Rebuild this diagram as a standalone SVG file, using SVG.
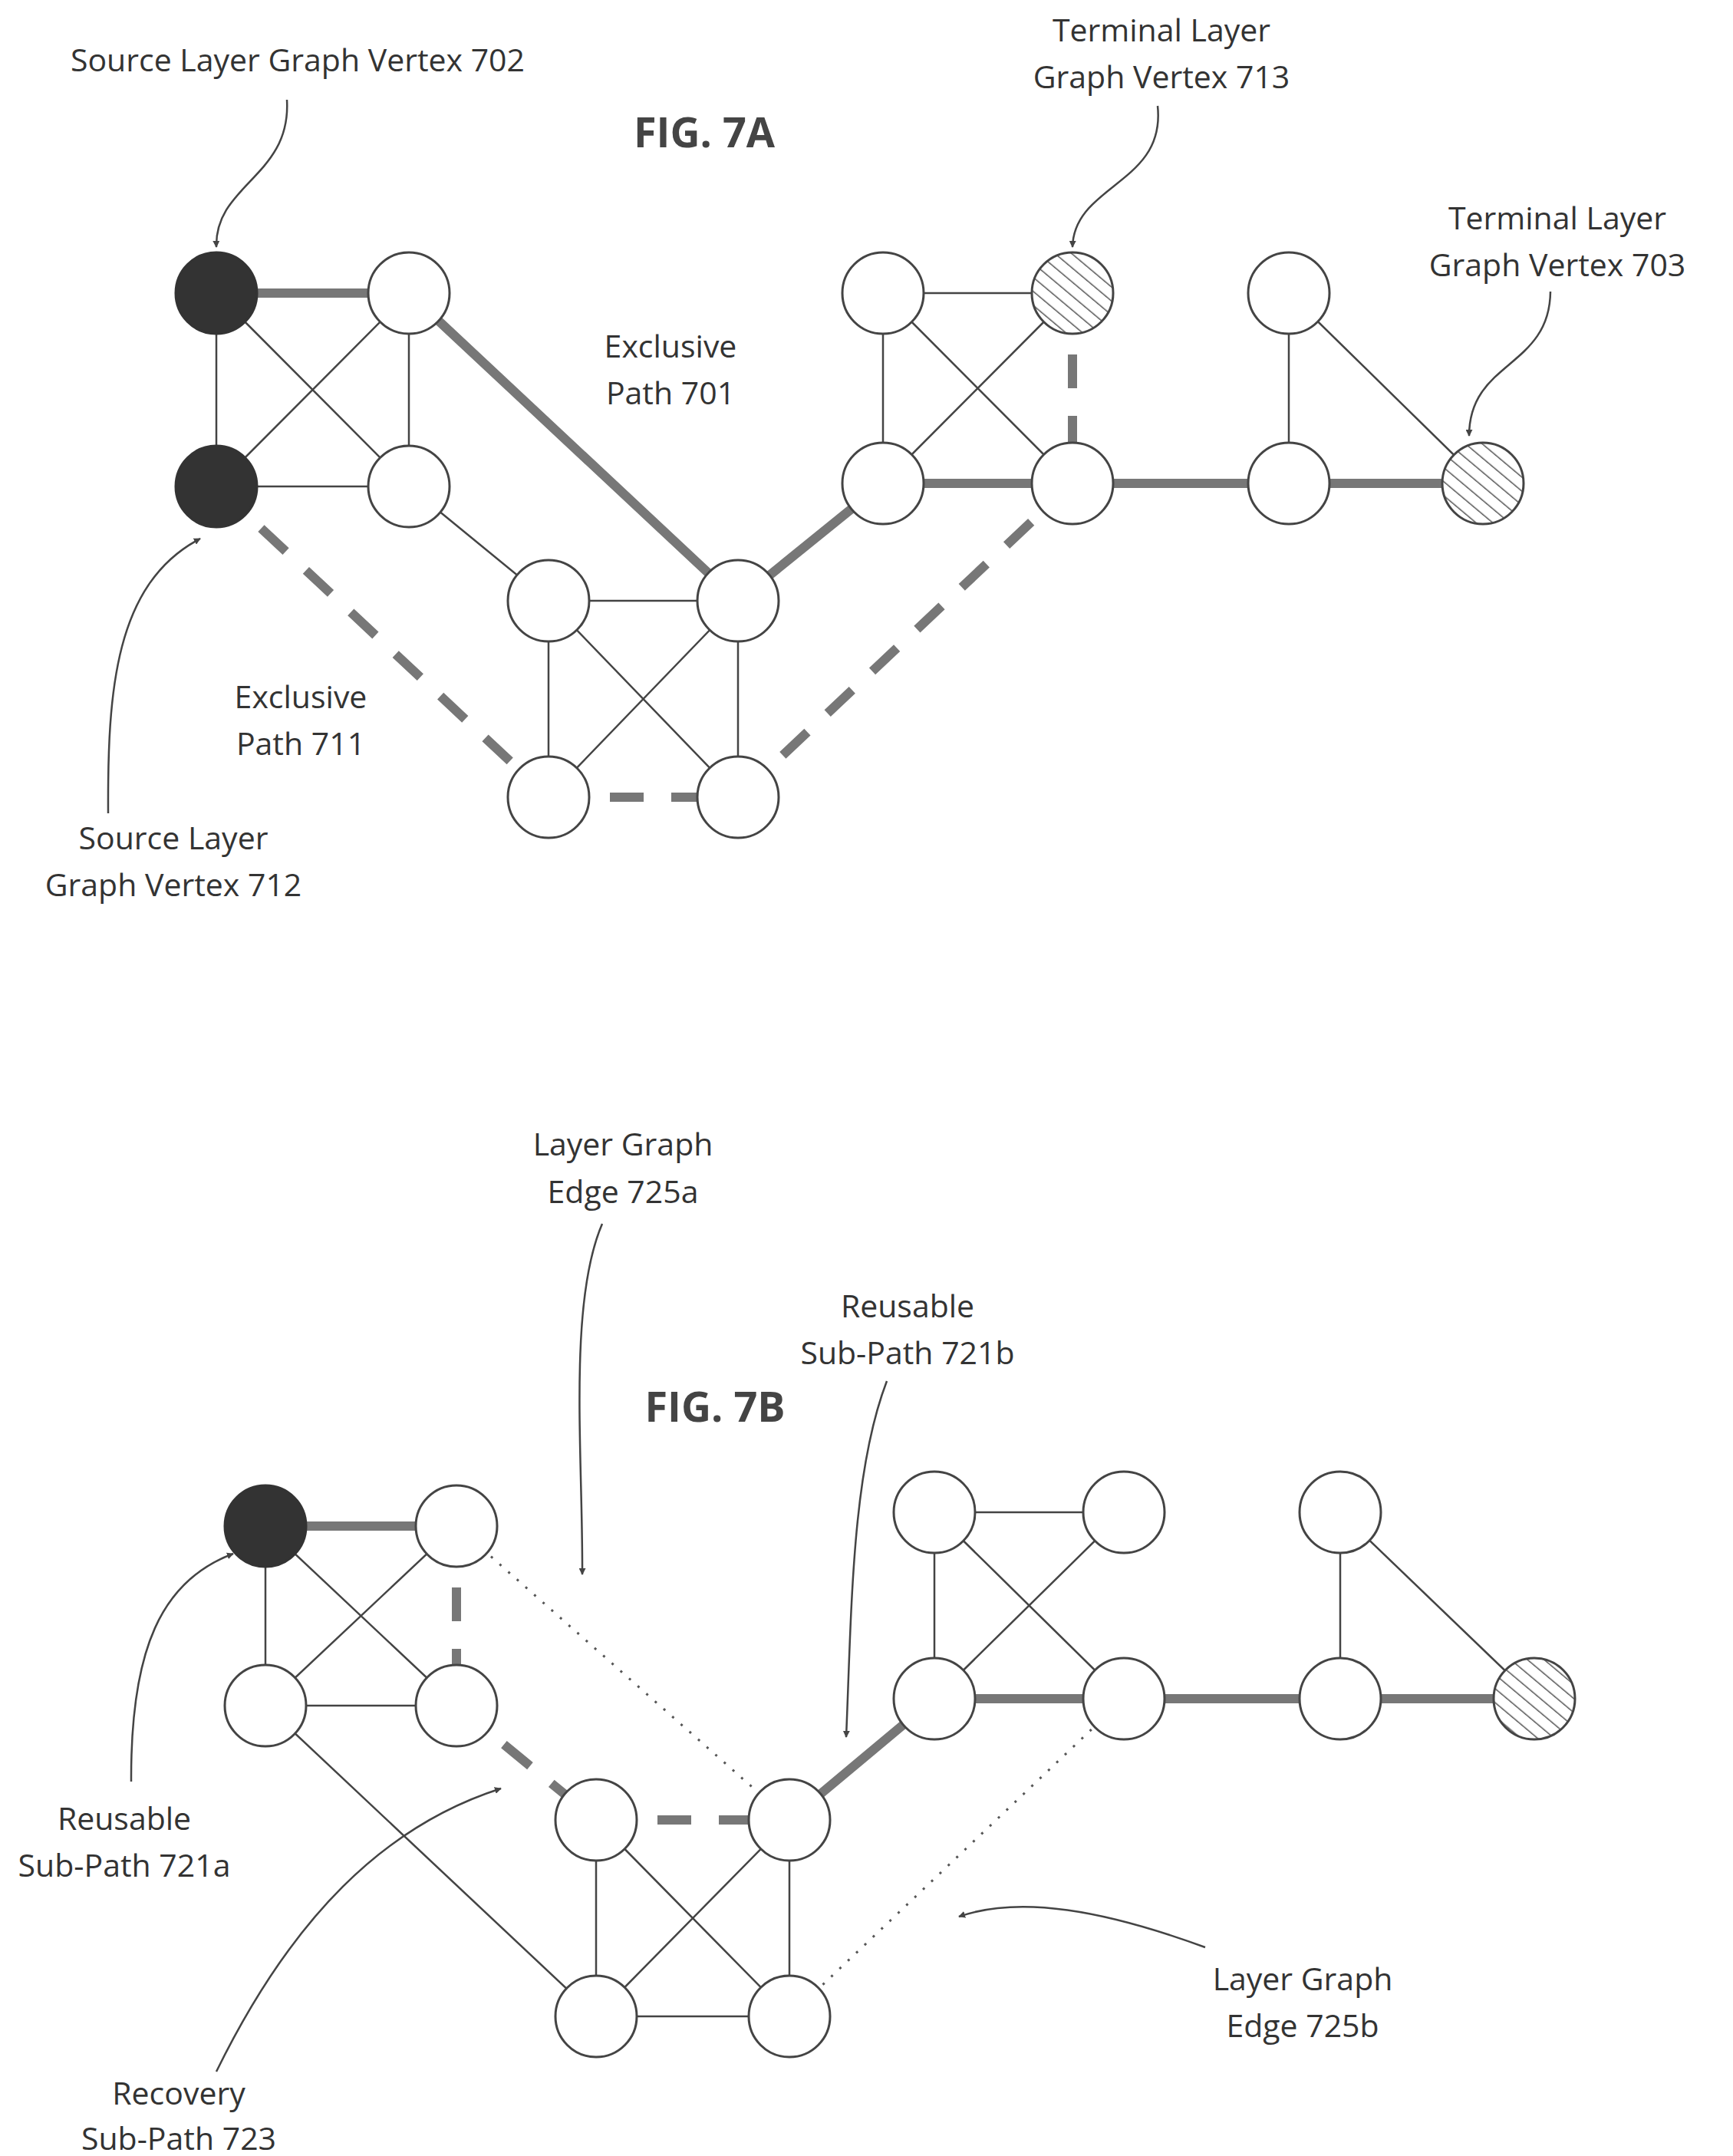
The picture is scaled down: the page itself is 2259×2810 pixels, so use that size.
<svg xmlns="http://www.w3.org/2000/svg" width="2259" height="2810" viewBox="0 0 2259 2810">
<style>
text{font-family:"Open Sans","Liberation Sans",sans-serif;font-size:41px;fill:#333;text-anchor:middle;dominant-baseline:central}
.fig{font-weight:bold;font-size:54px;fill:#444}
.n{fill:#fff;stroke:#444;stroke-width:3}
.blk{fill:#333;stroke:#333;stroke-width:3}
.hat{fill:url(#hatch);stroke:#444;stroke-width:3}
.t{stroke:#444;stroke-width:2.5;fill:none}
.k{stroke:#777;stroke-width:12;fill:none}
.d{stroke:#777;stroke-width:12;fill:none;stroke-dasharray:44 36}
.o{stroke:#555;stroke-width:3;fill:none;stroke-dasharray:3 12}
.a{stroke:#444;stroke-width:2.5;fill:none;marker-end:url(#ah)}
</style>
<defs>
<pattern id="hatch" width="14" height="14" patternUnits="userSpaceOnUse" patternTransform="rotate(-50)"><rect width="14" height="14" fill="#fff"/><line x1="0" y1="0" x2="0" y2="14" stroke="#555" stroke-width="3"/></pattern>
<marker id="ah" viewBox="0 0 10 10" refX="9" refY="5" markerWidth="9" markerHeight="9" orient="auto" markerUnits="userSpaceOnUse"><path d="M0,0L10,5L0,10z" fill="#444"/></marker>
</defs>
<rect width="2259" height="2810" fill="#fff"/>
<g id="connectors">
<path class="t" d="M282,382L282,634M533,382L533,634M282,382L533,634M533,382L282,634M282,634L533,634M533,634L715,783M715,783L962,783M715,783L715,1039M962,783L962,1039M715,783L962,1039M962,783L715,1039M1151,382L1398,382M1151,382L1151,630M1151,382L1398,630M1398,382L1151,630M1680,382L1680,630M1680,382L1933,630"/>
<path class="k" d="M282,382L533,382M533,382L962,783M962,783L1151,630M1151,630L1398,630M1398,630L1680,630M1680,630L1933,630"/>
<path class="d" d="M282,634L715,1039"/><path class="d" d="M715,1039L962,1039"/><path class="d" d="M962,1039L1398,630"/><path class="d" d="M1398,382L1398,630"/>
<path class="t" d="M346,1989L346,2223M346,1989L595,2223M595,1989L346,2223M346,2223L595,2223M346,2223L777,2628M777,2372L777,2628M777,2372L1029,2628M1029,2372L777,2628M1029,2372L1029,2628M777,2628L1029,2628M1218,1971L1465,1971M1218,1971L1218,2214M1218,1971L1465,2214M1465,1971L1218,2214M1747,1971L1747,2214M1747,1971L2000,2214"/>
<path class="k" d="M346,1989L595,1989M1029,2372L1218,2214M1218,2214L1465,2214M1465,2214L1747,2214M1747,2214L2000,2214"/>
<path class="d" d="M595,1989L595,2223"/><path class="d" d="M595,2223L777,2372"/><path class="d" d="M777,2372L1029,2372"/>
<path class="o" d="M595,1989L1029,2372M1029,2628L1465,2214"/>
<path class="a" d="M374,130C380,230 280,240 282,322"/>
<path class="a" d="M1509,138C1520,240 1400,240 1398,322"/>
<path class="a" d="M2021,380C2020,480 1915,470 1915,568"/>
<path class="a" d="M141,1060C140,900 150,760 261,702"/>
<path class="a" d="M785,1595C740,1700 760,1900 759,2052"/>
<path class="a" d="M1156,1800C1110,1920 1110,2100 1103,2264"/>
<path class="a" d="M171,2322C170,2150 210,2060 304,2025"/>
<path class="a" d="M282,2700C380,2500 500,2380 653,2331"/>
<path class="a" d="M1571,2538C1440,2490 1330,2470 1250,2498"/>
</g>
<g id="A1"><circle class="blk" cx="282" cy="382" r="53"/></g>
<g id="A2"><circle class="n" cx="533" cy="382" r="53"/></g>
<g id="A3"><circle class="blk" cx="282" cy="634" r="53"/></g>
<g id="A4"><circle class="n" cx="533" cy="634" r="53"/></g>
<g id="A5"><circle class="n" cx="715" cy="783" r="53"/></g>
<g id="A6"><circle class="n" cx="962" cy="783" r="53"/></g>
<g id="A7"><circle class="n" cx="715" cy="1039" r="53"/></g>
<g id="A8"><circle class="n" cx="962" cy="1039" r="53"/></g>
<g id="A9"><circle class="n" cx="1151" cy="382" r="53"/></g>
<g id="A10"><circle class="hat" cx="1398" cy="382" r="53"/></g>
<g id="A11"><circle class="n" cx="1151" cy="630" r="53"/></g>
<g id="A12"><circle class="n" cx="1398" cy="630" r="53"/></g>
<g id="A13"><circle class="n" cx="1680" cy="382" r="53"/></g>
<g id="A14"><circle class="n" cx="1680" cy="630" r="53"/></g>
<g id="A15"><circle class="hat" cx="1933" cy="630" r="53"/></g>
<g id="B1"><circle class="blk" cx="346" cy="1989" r="53"/></g>
<g id="B2"><circle class="n" cx="595" cy="1989" r="53"/></g>
<g id="B3"><circle class="n" cx="346" cy="2223" r="53"/></g>
<g id="B4"><circle class="n" cx="595" cy="2223" r="53"/></g>
<g id="B5"><circle class="n" cx="777" cy="2372" r="53"/></g>
<g id="B6"><circle class="n" cx="1029" cy="2372" r="53"/></g>
<g id="B7"><circle class="n" cx="777" cy="2628" r="53"/></g>
<g id="B8"><circle class="n" cx="1029" cy="2628" r="53"/></g>
<g id="B9"><circle class="n" cx="1218" cy="1971" r="53"/></g>
<g id="B10"><circle class="n" cx="1465" cy="1971" r="53"/></g>
<g id="B11"><circle class="n" cx="1218" cy="2214" r="53"/></g>
<g id="B12"><circle class="n" cx="1465" cy="2214" r="53"/></g>
<g id="B13"><circle class="n" cx="1747" cy="1971" r="53"/></g>
<g id="B14"><circle class="n" cx="1747" cy="2214" r="53"/></g>
<g id="B15"><circle class="hat" cx="2000" cy="2214" r="53"/></g>
<g id="labels">
<text x="388" y="77">Source Layer Graph Vertex 702</text>
<text class="fig" x="918" y="171">FIG. 7A</text>
<text x="1514" y="38">Terminal Layer</text><text x="1514" y="99">Graph Vertex 713</text>
<text x="2030" y="283">Terminal Layer</text><text x="2030" y="344">Graph Vertex 703</text>
<text x="874" y="450">Exclusive</text><text x="874" y="511">Path 701</text>
<text x="392" y="907">Exclusive</text><text x="392" y="968">Path 711</text>
<text x="226" y="1091">Source Layer</text><text x="226" y="1152">Graph Vertex 712</text>
<text x="812" y="1490">Layer Graph</text><text x="812" y="1552">Edge 725a</text>
<text x="1183" y="1701">Reusable</text><text x="1183" y="1762">Sub-Path 721b</text>
<text class="fig" x="932" y="1832">FIG. 7B</text>
<text x="162" y="2369">Reusable</text><text x="162" y="2430">Sub-Path 721a</text>
<text x="233" y="2727">Recovery</text><text x="233" y="2786">Sub-Path 723</text>
<text x="1698" y="2578">Layer Graph</text><text x="1698" y="2639">Edge 725b</text>
</g>
</svg>
